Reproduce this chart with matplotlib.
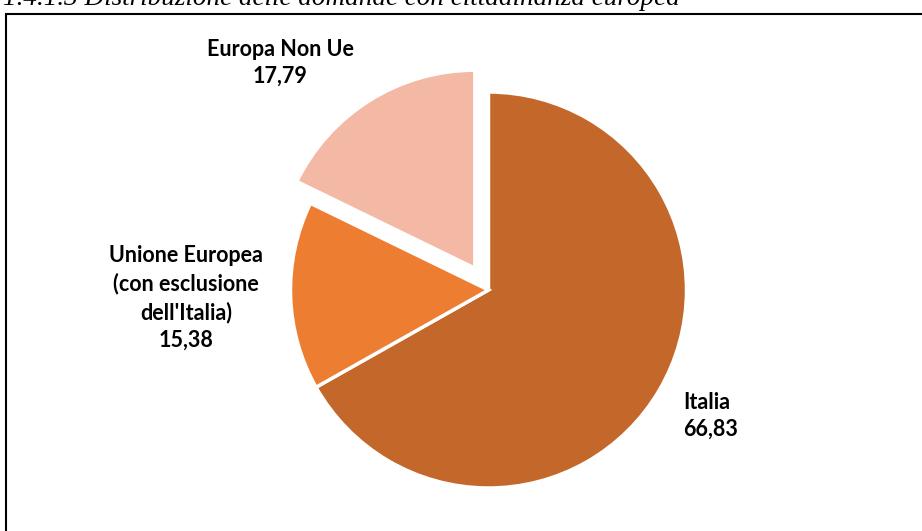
import matplotlib
matplotlib.use("Agg")
import matplotlib.pyplot as plt
from matplotlib.patches import Rectangle

# Distribution of applications by European citizenship (percent)
categories = ["Italia", "Unione Europea\n(con esclusione\ndell'Italia)", "Europa Non Ue"]
values = [66.83, 15.38, 17.79]
colors = ["#C4672A", "#ED7D31", "#F4B9A5"]
explode = [0.0, 0.0, 0.13]

W, H, DPI = 922, 531, 100
fig = plt.figure(figsize=(W / DPI, H / DPI), dpi=DPI)
fig.patch.set_facecolor("white")

# Axes spanning the whole figure, 198 px per data unit, pie centred at (488, 290) px
R = 198.0
cx, cy = 488.5, 290.0
ax = fig.add_axes([0, 0, 1, 1])
ax.pie(values, colors=colors, explode=explode, startangle=90, counterclock=False,
       radius=1.0, wedgeprops=dict(edgecolor="white", linewidth=2.5))
ax.set_xlim(-cx / R, (W - cx) / R)
ax.set_ylim(-(H - cy) / R, cy / R)
ax.set_aspect("auto")
ax.axis("off")

def fmt(v):
    return f"{v:.2f}".replace(".", ",")

label_font = dict(family=["Lato", "DejaVu Sans"], fontweight="bold", fontsize=15.5,
                  color="black")

def px(x, y):
    return (x - cx) / R, (cy - y) / R

# Data labels: category name and value
x, y = px(280, 63)
ax.text(x, y, f"{categories[2]}\n{fmt(values[2])}", ha="center", va="center",
        linespacing=1.3, **label_font)
x, y = px(186, 298)
ax.text(x, y, f"{categories[1]}\n{fmt(values[1])}", ha="center", va="center",
        linespacing=1.38, **label_font)
x, y = px(683, 416)
ax.text(x, y, f"{categories[0]}\n{fmt(values[0])}", ha="left", va="center",
        linespacing=1.36, **label_font)

# Chart frame
fig.patches.append(Rectangle((6 / W, -0.05), 1.1, (H - 13.5) / H + 0.05,
                             transform=fig.transFigure, fill=False,
                             edgecolor="black", linewidth=1.5))

# Caption above the frame
fig.text(3 / W, 1 - 5 / H, "1.4.1.3 Distribuzione delle domande con cittadinanza europea",
         ha="left", va="baseline", fontsize=19.5, fontstyle="italic",
         family=["Liberation Serif", "DejaVu Serif"], color="black")

fig.savefig("out.png", dpi=DPI, facecolor="white")
